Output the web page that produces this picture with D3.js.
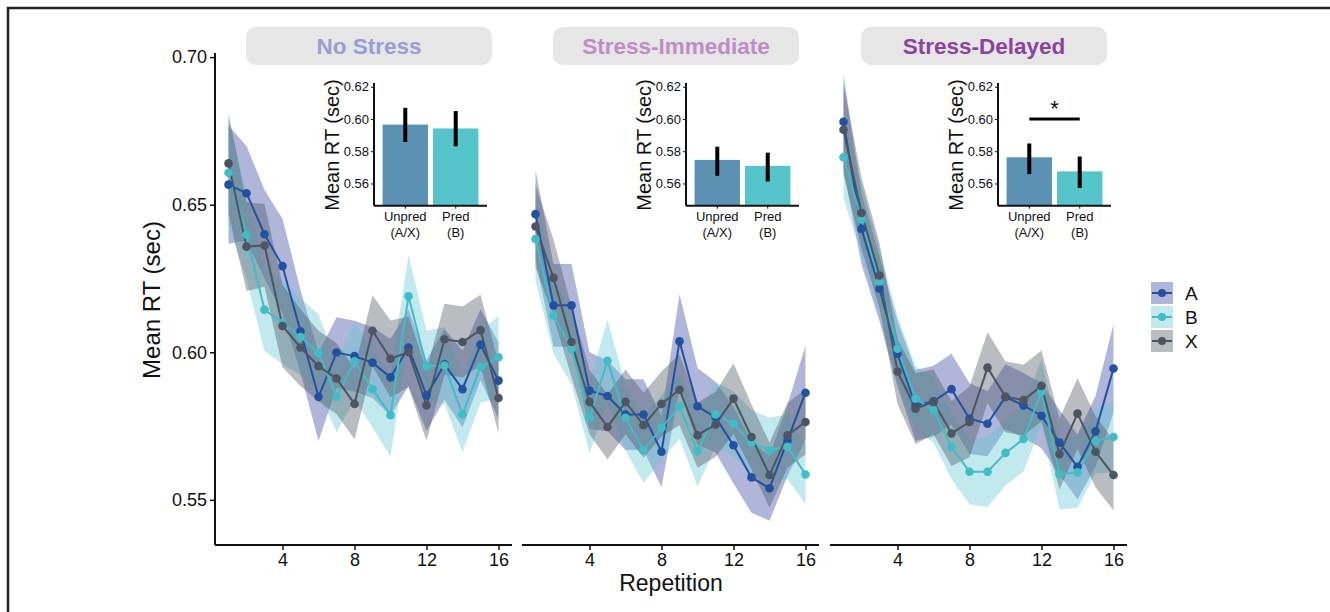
<!DOCTYPE html>
<html><head><meta charset="utf-8">
<script src="https://cdn.jsdelivr.net/npm/d3@7"></script>
<style>body{margin:0;background:#fff}svg{display:block;font-family:"Liberation Sans",Arial,sans-serif}</style>
</head><body><svg id="c" width="1330" height="612"></svg>
<script>
// ---------- data ----------
const panels = ["No Stress", "Stress-Immediate", "Stress-Delayed"];
const seriesNames = ["A", "B", "X"];
const reps = d3.range(1, 17);
const xTicks = [4, 8, 12, 16];
const yTicks = [0.55, 0.60, 0.65, 0.70];
const insetTicks = [0.56, 0.58, 0.60, 0.62];
const insetCats = ["Unpred\n(A/X)", "Pred\n(B)"];

// No Stress
const nsA = [0.6568,0.6539,0.6400,0.6292,0.6071,0.5849,0.5999,0.5987,0.5965,0.5915,0.6016,0.5854,0.5959,0.5875,0.6026,0.5904];
const nsB = [0.6608,0.6398,0.6144,0.6100,0.6052,0.5998,0.5849,0.5969,0.5875,0.5787,0.6190,0.5953,0.5955,0.5790,0.5950,0.5983];
const nsX = [0.6640,0.6358,0.6362,0.6089,0.6016,0.5953,0.5911,0.5825,0.6073,0.5978,0.6001,0.5820,0.6044,0.6035,0.6075,0.5845];
const nsAse = [0.020,0.016,0.015,0.016,0.014,0.015,0.012,0.012,0.012,0.013,0.013,0.012,0.012,0.013,0.012,0.013];
const nsBse = [0.018,0.015,0.014,0.014,0.013,0.013,0.012,0.013,0.013,0.014,0.014,0.012,0.013,0.013,0.012,0.014];
const nsXse = [0.017,0.015,0.014,0.014,0.013,0.012,0.012,0.012,0.012,0.013,0.012,0.012,0.012,0.012,0.012,0.012];
// Stress-Immediate
const siA = [0.6468,0.6159,0.6159,0.5870,0.5852,0.5789,0.5789,0.5663,0.6037,0.5817,0.5780,0.5685,0.5576,0.5539,0.5702,0.5863];
const siB = [0.6384,0.6125,0.6012,0.5778,0.5971,0.5778,0.5667,0.5744,0.5817,0.5665,0.5789,0.5758,0.5694,0.5668,0.5680,0.5586];
const siX = [0.6426,0.6252,0.6035,0.5832,0.5747,0.5832,0.5753,0.5825,0.5873,0.5719,0.5755,0.5843,0.5713,0.5584,0.5719,0.5764];
const siAse = [0.015,0.014,0.014,0.013,0.012,0.012,0.012,0.012,0.016,0.013,0.012,0.013,0.012,0.011,0.012,0.016];
const siBse = [0.014,0.013,0.012,0.012,0.014,0.011,0.011,0.011,0.011,0.012,0.011,0.011,0.011,0.011,0.011,0.010];
const siXse = [0.014,0.013,0.012,0.011,0.011,0.011,0.011,0.011,0.012,0.011,0.011,0.012,0.011,0.011,0.011,0.011];
// Stress-Delayed
const sdA = [0.6781,0.6418,0.6215,0.5995,0.5820,0.5834,0.5875,0.5775,0.5758,0.5849,0.5820,0.5785,0.5694,0.5612,0.5732,0.5945];
const sdB = [0.6661,0.6450,0.6240,0.6012,0.5843,0.5804,0.5680,0.5595,0.5595,0.5659,0.5706,0.5866,0.5587,0.5593,0.5699,0.5713];
const sdX = [0.6754,0.6472,0.6260,0.5935,0.5809,0.5832,0.5725,0.5764,0.5948,0.5849,0.5838,0.5886,0.5655,0.5792,0.5663,0.5584];
const sdAse = [0.016,0.012,0.011,0.011,0.012,0.012,0.012,0.012,0.011,0.011,0.011,0.011,0.011,0.011,0.012,0.015];
const sdBse = [0.014,0.012,0.011,0.011,0.011,0.011,0.011,0.011,0.012,0.011,0.011,0.011,0.012,0.012,0.011,0.012];
const sdXse = [0.015,0.012,0.011,0.011,0.012,0.011,0.011,0.012,0.012,0.012,0.012,0.012,0.012,0.012,0.012,0.012];

// inset bars (mean, lower, upper) per panel: [Unpred, Pred]
const insetMean  = [[0.5965,0.5941],[0.5746,0.5709],[0.5762,0.5675]];
const insetLower = [[0.5857,0.5830],[0.5648,0.5612],[0.5658,0.5572]];
const insetUpper = [[0.6069,0.6049],[0.5828,0.5791],[0.5848,0.5767]];
const insetSig = [false, false, true];

// ---------- styles ----------
const lineCol = {A:"#22529f", B:"#42bcc6", X:"#4d5562"};
const ribCol  = {A:"#2f3f9e", B:"#5fc6d0", X:"#464e5d"};
const stripCol = ["#9c9cd4", "#bf8cc6", "#8a44a0"];
const barCol = ["#5b92b3", "#55c4cb"];
const font = '"Liberation Sans",Arial,sans-serif';

const meanData = [[nsA,nsB,nsX],[siA,siB,siX],[sdA,sdB,sdX]];
const seData = [[nsAse,nsBse,nsXse],[siAse,siBse,siXse],[sdAse,sdBse,sdXse]];

const svg = d3.select("#c");
// frame
svg.append("path").attr("d","M8,612 L8,8 L1330,8").attr("fill","none").attr("stroke","#222").attr("stroke-width",2.5);

const panelX0 = [215, 522, 830];
const panelW = 297;
const y = d3.scaleLinear().domain([0.5347, 0.7014]).range([545, 53]);

// y axis
const yAx = svg.append("g").attr("transform","translate(215,0)")
  .call(d3.axisLeft(y).tickValues(yTicks).tickFormat(d3.format(".2f")).tickSize(5).tickPadding(3));
yAx.select(".domain").attr("stroke","#111").attr("stroke-width",2).attr("d","M0,53V545");
yAx.selectAll(".tick line").attr("stroke","#111").attr("stroke-width",1.5);
yAx.selectAll("text").attr("font-size",18).attr("font-family",font).attr("fill","#111");

svg.append("text").attr("transform","translate(160,300) rotate(-90)").attr("text-anchor","middle")
  .attr("font-size",24).attr("font-family",font).attr("fill","#111").text("Mean RT (sec)");
svg.append("text").attr("x",671).attr("y",591).attr("text-anchor","middle")
  .attr("font-size",23).attr("font-family",font).attr("fill","#111").text("Repetition");

const insetLeft = [374, 686, 998];
const insetW = 113;
const iy = d3.scaleLinear().domain([0.5462, 0.6223]).range([205.7, 83]);

panels.forEach((pn, pi) => {
  const x = d3.scaleLinear().domain([0.25, 16.75]).range([panelX0[pi], panelX0[pi] + panelW]);
  const g = svg.append("g");
  // ribbons
  seriesNames.forEach((s, si) => {
    const m = meanData[pi][si], se = seData[pi][si];
    const area = d3.area().x((d,i)=>x(reps[i])).y0((d,i)=>y(m[i]-se[i])).y1((d,i)=>y(m[i]+se[i]));
    g.append("path").attr("d", area(m)).attr("fill", ribCol[s]).attr("fill-opacity",0.38);
  });
  seriesNames.forEach((s, si) => {
    const m = meanData[pi][si];
    const line = d3.line().x((d,i)=>x(reps[i])).y(d=>y(d));
    g.append("path").attr("d", line(m)).attr("fill","none").attr("stroke", lineCol[s]).attr("stroke-width",2);
  });
  seriesNames.forEach((s, si) => {
    const m = meanData[pi][si];
    g.selectAll(null).data(m).enter().append("circle")
      .attr("cx",(d,i)=>x(reps[i])).attr("cy",d=>y(d)).attr("r",4.3).attr("fill",lineCol[s]);
  });
  // x axis
  const xAx = svg.append("g").attr("transform","translate(0,545)")
    .call(d3.axisBottom(x).tickValues(xTicks).tickSize(5).tickPadding(3));
  xAx.select(".domain").attr("stroke","#111").attr("stroke-width",2).attr("d",`M${panelX0[pi]},0H${panelX0[pi]+panelW}`);
  xAx.selectAll(".tick line").attr("stroke","#111").attr("stroke-width",1.5);
  xAx.selectAll("text").attr("font-size",18).attr("font-family",font).attr("fill","#111");

  // strip
  const sx = panelX0[pi] + 31, sw = 246;
  svg.append("rect").attr("x",sx).attr("y",27).attr("width",sw).attr("height",38).attr("rx",10)
    .attr("fill","#e6e6e6");
  svg.append("text").attr("x",sx+sw/2).attr("y",53.5).attr("text-anchor","middle")
    .attr("font-size",22.5).attr("font-weight","bold").attr("font-family",font).attr("fill",stripCol[pi]).text(pn);

  // inset
  const ix = d3.scaleBand().domain(insetCats).range([insetLeft[pi], insetLeft[pi]+insetW]).paddingInner(0.1).paddingOuter(0.17);
  const ig = svg.append("g");
  ig.selectAll(null).data(insetMean[pi]).enter().append("rect")
    .attr("x",(d,i)=>ix(insetCats[i])).attr("width",ix.bandwidth())
    .attr("y",d=>iy(d)).attr("height",d=>iy.range()[0]-iy(d)).attr("fill",(d,i)=>barCol[i]);
  ig.selectAll(null).data(insetMean[pi]).enter().append("line")
    .attr("x1",(d,i)=>ix(insetCats[i])+ix.bandwidth()/2).attr("x2",(d,i)=>ix(insetCats[i])+ix.bandwidth()/2)
    .attr("y1",(d,i)=>iy(insetLower[pi][i])).attr("y2",(d,i)=>iy(insetUpper[pi][i]))
    .attr("stroke","#000").attr("stroke-width",4);
  const iyAx = ig.append("g").attr("transform",`translate(${insetLeft[pi]},0)`)
    .call(d3.axisLeft(iy).tickValues(insetTicks).tickFormat(d3.format(".2f")).tickSize(3).tickPadding(2));
  iyAx.select(".domain").attr("stroke","#111").attr("stroke-width",2).attr("d","M0,83V205.7");
  iyAx.selectAll(".tick line").attr("stroke","#111");
  iyAx.selectAll("text").attr("font-size",13).attr("font-family",font).attr("fill","#111");
  const ixAx = ig.append("g").attr("transform","translate(0,205.7)")
    .call(d3.axisBottom(ix).tickSize(3).tickFormat(""));
  ixAx.select(".domain").attr("stroke","#111").attr("stroke-width",2).attr("d",`M${insetLeft[pi]},0H${insetLeft[pi]+insetW}`);
  ixAx.selectAll(".tick line").attr("stroke","#111");
  insetCats.forEach((c, i) => {
    const t = ig.append("text").attr("x", ix(c)+ix.bandwidth()/2).attr("y", 221).attr("text-anchor","middle")
      .attr("font-size",13).attr("font-family",font).attr("fill","#111");
    c.split("\n").forEach((ln, k) => t.append("tspan").attr("x", ix(c)+ix.bandwidth()/2).attr("dy", k ? 15.5 : 0).text(ln));
  });
  ig.append("text").attr("transform",`translate(${insetLeft[pi]-35},145) rotate(-90)`).attr("text-anchor","middle")
    .attr("font-size",20).attr("font-family",font).attr("fill","#111").text("Mean RT (sec)");
  if (insetSig[pi]) {
    const c1 = ix(insetCats[0])+ix.bandwidth()/2, c2 = ix(insetCats[1])+ix.bandwidth()/2;
    ig.append("line").attr("x1",c1).attr("x2",c2).attr("y1",iy(0.60)).attr("y2",iy(0.60)).attr("stroke","#000").attr("stroke-width",3);
    ig.append("text").attr("x",(c1+c2)/2).attr("y",iy(0.60)-3).attr("text-anchor","middle")
      .attr("font-size",22).attr("font-family",font).attr("fill","#111").text("*");
  }
});

// legend
const lg = svg.append("g");
seriesNames.forEach((s, i) => {
  const yy = 282 + i*24;
  lg.append("rect").attr("x",1151).attr("y",yy).attr("width",22).attr("height",22).attr("fill",ribCol[s]).attr("fill-opacity",0.38);
  lg.append("line").attr("x1",1152).attr("x2",1172).attr("y1",yy+11).attr("y2",yy+11).attr("stroke",lineCol[s]).attr("stroke-width",2);
  lg.append("circle").attr("cx",1162).attr("cy",yy+11).attr("r",4).attr("fill",lineCol[s]);
  lg.append("text").attr("x",1185).attr("y",yy+18).attr("font-size",19).attr("font-family",font).attr("fill","#111").text(s);
});
</script></body></html>
